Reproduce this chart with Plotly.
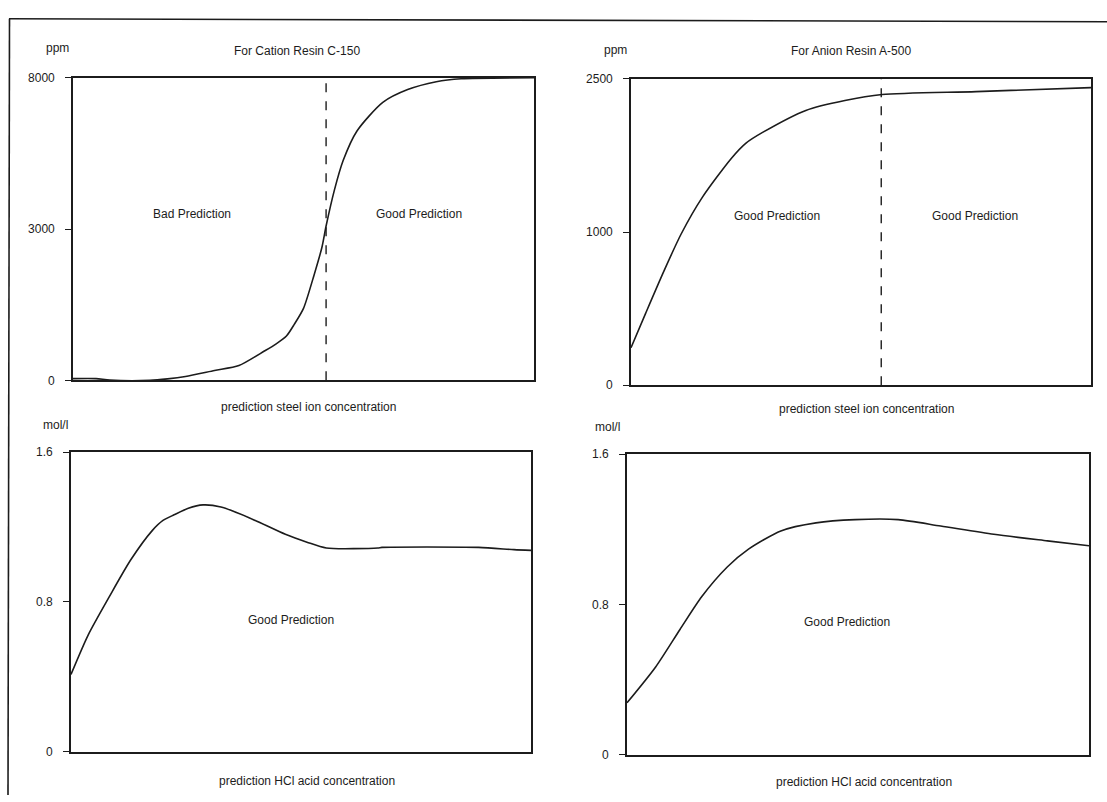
import numpy as np
import plotly.graph_objects as go

W, H = 1107, 802

# ---------------- data (x = relative position along the prediction axis, %) ----------------
cation_x = [0, 5, 8, 16.7, 20.5, 24.4, 30.7, 36.0, 41.6, 44.0, 46.3, 48.0, 50.0, 52.3, 54.0,
            54.9, 56.7, 58.6, 61.6, 67.2, 72.6, 78.8, 84.2, 100]
cation_ppm = [35, 35, 5, 0, 30, 78, 195, 293, 586, 720, 879, 1110, 1427, 2091, 2640,
              3100, 4287, 5264, 6241, 7186, 7609, 7869, 7967, 8000]

anion_x = [0, 3.2, 7.2, 10.9, 15.5, 21.8, 25.0, 28.7, 38.0, 46.5, 54.6, 75.0, 100]
anion_ppm = [245, 471, 748, 987, 1339, 1720, 1870, 1977, 2190, 2287, 2345, 2374, 2413]

hcl_c_x = [0, 3.7, 8.4, 13.0, 17.7, 20.0, 22.4, 25.5, 28.7, 32.6, 38.7, 46.6, 51.3, 55.5,
           66.7, 67.6, 88.6, 96.3, 100]
hcl_c_mol = [0.413, 0.622, 0.831, 1.025, 1.182, 1.235, 1.265, 1.300, 1.318, 1.307, 1.25,
             1.161, 1.119, 1.088, 1.088, 1.091, 1.091, 1.079, 1.075]

hcl_a_x = [0, 6.2, 11.5, 16.2, 21.7, 26.3, 33.3, 40.9, 49.4, 58.7, 67.9, 79.4, 91.0, 100]
hcl_a_mol = [0.276, 0.467, 0.668, 0.842, 0.999, 1.094, 1.191, 1.234, 1.251, 1.251, 1.217,
             1.173, 1.138, 1.112]

cation_ticks = [0, 3000, 8000]
anion_ticks = [0, 1000, 2500]
mol_ticks = [0, 0.8, 1.6]

cation_split = 54.9
anion_split = 54.4

# The ppm axes in the original are piecewise: tick labels are evenly spaced.
def piecewise(vals, ticks):
    return np.interp(vals, ticks, np.linspace(0, 1, len(ticks)))

FONT = "Liberation Sans, Arial, sans-serif"
INK = "#1c1c1c"

def px_x(p):
    return p / W

def px_y(p):
    return 1 - p / H

# plot rectangles in pixels (left, right, top, bottom)
rects = {
    1: (73, 534, 72, 380),
    2: (631, 1091, 73, 385),
    3: (71, 531, 453, 758),
    4: (627, 1089, 455, 761),
}

fig = go.Figure()

series = [
    (1, cation_x, piecewise(cation_ppm, cation_ticks)),
    (2, anion_x, piecewise(anion_ppm, anion_ticks)),
    (3, hcl_c_x, hcl_c_mol),
    (4, hcl_a_x, hcl_a_mol),
]
for i, xs, ys in series:
    fig.add_trace(go.Scatter(
        x=xs, y=ys, mode="lines",
        line=dict(color=INK, width=1.6, shape="spline", smoothing=0.7),
        xaxis=f"x{i}", yaxis=f"y{i}", showlegend=False, hoverinfo="skip",
    ))

layout = dict(
    width=W, height=H,
    margin=dict(l=0, r=0, t=0, b=0),
    paper_bgcolor="white", plot_bgcolor="white",
    font=dict(family=FONT, size=12, color=INK),
    showlegend=False,
)

ytick_specs = {
    1: (list(np.linspace(0, 1, 3)), [str(t) for t in cation_ticks], [0, 1]),
    2: (list(np.linspace(0, 1, 3)), [str(t) for t in anion_ticks], [0, 1]),
    3: (mol_ticks, ["0", "0.8", "1.6"], [0, 1.6]),
    4: (mol_ticks, ["0", "0.8", "1.6"], [0, 1.6]),
}

for i, (l, r, t, b) in rects.items():
    sfx = "" if i == 1 else str(i)
    layout[f"xaxis{sfx}"] = dict(
        domain=[px_x(l), px_x(r)], anchor=f"y{i}", range=[0, 100],
        showticklabels=False, ticks="", showgrid=False, zeroline=False,
        showline=True, linecolor=INK, linewidth=1.6, mirror=True,
    )
    tv, tt, rng = ytick_specs[i]
    layout[f"yaxis{sfx}"] = dict(
        domain=[px_y(b), px_y(t)], anchor=f"x{i}", range=rng,
        tickvals=tv, ticktext=tt, ticks="outside", ticklen=6, tickwidth=1.4,
        tickcolor=INK, ticklabelstandoff=8,
        showgrid=False, zeroline=False,
        showline=True, linecolor=INK, linewidth=1.6, mirror=True,
        tickfont=dict(family=FONT, size=12, color=INK),
    )

fig.update_layout(**layout)

# dashed split lines
fig.add_shape(type="line", xref="x", yref="y", x0=cation_split, x1=cation_split, y0=0, y1=1,
              line=dict(color=INK, width=1.4, dash="dash"))
fig.add_shape(type="line", xref="x2", yref="y2", x0=anion_split, x1=anion_split, y0=0, y1=1,
              line=dict(color=INK, width=1.4, dash="dash"))

# outer frame (top and left edges visible in the scan)
fig.add_shape(type="line", xref="paper", yref="paper", x0=px_x(9), x1=1.0,
              y0=px_y(12), y1=px_y(15), line=dict(color=INK, width=1.6))
fig.add_shape(type="line", xref="paper", yref="paper", x0=px_x(9.5), x1=px_x(8),
              y0=px_y(12), y1=0, line=dict(color=INK, width=1.6))

texts = [
    ("For Cation Resin C-150", 297, 45),
    ("ppm", 57, 42),
    ("For Anion Resin A-500", 851, 45),
    ("ppm", 615, 44),
    ("Bad Prediction", 192, 211),
    ("Good Prediction", 419, 211),
    ("Good Prediction", 777, 213),
    ("Good Prediction", 975, 213),
    ("prediction steel ion concentration", 308, 407),
    ("prediction steel ion concentration", 866, 409),
    ("mol/l", 55, 425),
    ("mol/l", 607, 427),
    ("Good Prediction", 291, 624),
    ("Good Prediction", 847, 626),
    ("prediction HCl acid concentration", 307, 788),
    ("prediction HCl acid concentration", 864, 789),
]
for s, x, y in texts:
    fig.add_annotation(text=s, x=px_x(x), y=px_y(y), xref="paper", yref="paper",
                       showarrow=False, xanchor="center", yanchor="middle",
                       font=dict(family=FONT, size=12, color=INK))

fig.write_html(
    "out.html",
    config={"displayModeBar": False},
    post_script="document.body.style.margin='0';document.body.style.padding='0';"
                "document.documentElement.style.overflow='hidden';",
)
